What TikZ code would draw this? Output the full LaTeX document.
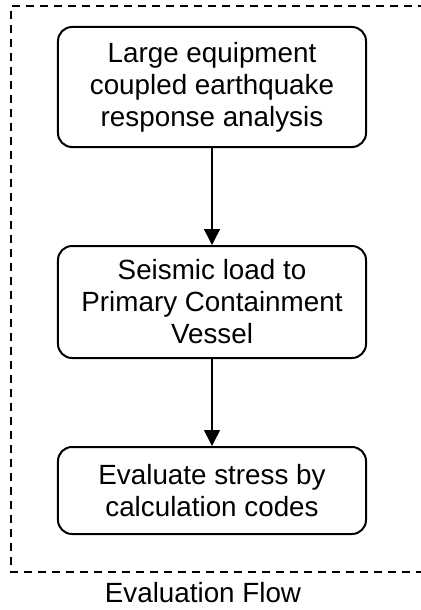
\documentclass[tikz,border=0pt]{standalone}
\usepackage{fontspec}
\setmainfont{Liberation Sans}
\usepackage{tikz}
\usetikzlibrary{arrows.meta,positioning}

\begin{document}
\begin{tikzpicture}[
  x=0.5bp, y=-0.5bp,
  >=Latex,
  box/.style={rounded corners=7bp, draw, line width=1bp, align=center,
    minimum width=154bp, inner sep=0pt,
    font=\fontsize{13.9bp}{16bp}\selectfont},
  flow/.style={-{Triangle[length=8bp,width=8bp]}, line width=.75bp},
  frame/.style={dash pattern=on 4bp off 3bp, line width=.7bp}
]
  \useasboundingbox (0,0) rectangle (421,610);
  \node[box,minimum height=60bp] (equip) at (212,87) {Large equipment\\coupled earthquake\\response analysis};
  \node[box,minimum height=56bp,below=48.5bp of equip] (load) {Seismic load to\\Primary Containment\\Vessel};
  \node[box,minimum height=43.5bp,below=43.5bp of load,
    font=\fontsize{13.9bp}{16.4bp}\selectfont] (stress) {Evaluate stress by\\calculation codes};
  \draw[flow] (equip.south) -- (load.north);
  \draw[flow] (load.south) -- (stress.north);
  % dashed frame, open to the right
  \coordinate (tr) at (440,6);
  \coordinate (br) at (440,572);
  \draw[frame] (tr) -- (11,6) -- (11,572) -- (br);
  \node[font=\fontsize{13.9bp}{16bp}\selectfont] (title) at (203,593) {Evaluation Flow};
\end{tikzpicture}
\end{document}
